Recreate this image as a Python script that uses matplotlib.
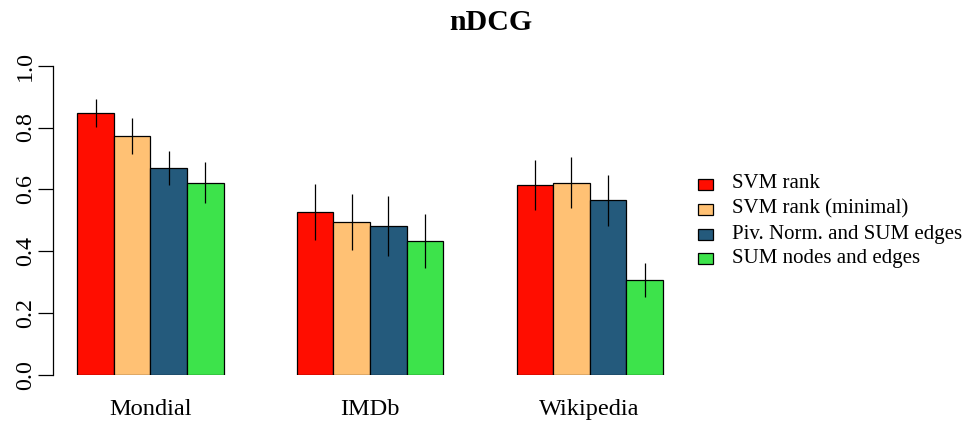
import matplotlib
matplotlib.use("Agg")
import matplotlib.pyplot as plt
import numpy as np
from matplotlib.patches import Rectangle

categories = ["Mondial", "IMDb", "Wikipedia"]
series_names = ["SVM rank", "SVM rank (minimal)", "Piv. Norm. and SUM edges", "SUM nodes and edges"]
colors = ["#FF0D00", "#FFC174", "#245A7C", "#3DE34B"]
values = {
    "SVM rank":                 [0.848, 0.526, 0.614],
    "SVM rank (minimal)":       [0.772, 0.495, 0.622],
    "Piv. Norm. and SUM edges": [0.668, 0.481, 0.565],
    "SUM nodes and edges":      [0.622, 0.432, 0.306],
}
errors = {
    "SVM rank":                 [0.045, 0.090, 0.081],
    "SVM rank (minimal)":       [0.058, 0.091, 0.083],
    "Piv. Norm. and SUM edges": [0.055, 0.097, 0.082],
    "SUM nodes and edges":      [0.066, 0.087, 0.055],
}
yticks = [0.0, 0.2, 0.4, 0.6, 0.8, 1.0]

W, H = 964, 421
fig = plt.figure(figsize=(W / 100, H / 100), dpi=100)
serif = "Liberation Serif"

ax_l, ax_r, ax_b, ax_t = 53, 683, 375, 65.7
ax = fig.add_axes([ax_l / W, 1 - ax_b / H, (ax_r - ax_l) / W, (ax_b - ax_t) / H])

nser = len(series_names)
gap = 2
stride = nser + gap
for g, cat in enumerate(categories):
    start = 1 + g * stride
    for s, name in enumerate(series_names):
        x = start + s + 0.5
        ax.bar(x, values[name][g], width=1.0, color=colors[s], edgecolor="black", linewidth=0.9, zorder=2)
        ax.errorbar(x, values[name][g], yerr=errors[name][g], fmt="none", ecolor="black",
                    elinewidth=0.9, capsize=0, zorder=3)

unit_px = 36.6
ax.set_xlim(1 - (77.3 - ax_l) / unit_px, 1 + (ax_r - 77.3) / unit_px)
ax.set_ylim(0, 1)
for sp in ["top", "right", "bottom"]:
    ax.spines[sp].set_visible(False)
ax.spines["left"].set_linewidth(0.9)
ax.spines["left"].set_bounds(0, 1)
ax.set_yticks(yticks)
ax.set_yticklabels([f"{v:.1f}" for v in yticks], rotation=90, va="center",
                   fontfamily=serif, fontsize=17.3)
ax.tick_params(axis="y", length=11, width=0.9, pad=1)
ax.set_xticks([1 + g * stride + nser / 2 for g in range(len(categories))])
ax.set_xticklabels(categories, fontfamily=serif, fontsize=17.6)
ax.tick_params(axis="x", length=0, pad=17)

fig.text(491 / W, 1 - 22 / H, "nDCG", ha="center", va="center", fontfamily=serif,
         fontsize=21.5, fontweight="bold")

# legend
row_y = [184, 209.3, 234.3, 258.8]
for s, name in enumerate(series_names):
    y = row_y[s]
    fig.patches.append(Rectangle((698 / W, 1 - (y + 5.5) / H), 15 / W, 11 / H,
                                 transform=fig.transFigure, facecolor=colors[s],
                                 edgecolor="black", linewidth=0.9))
    fig.text(732 / W, 1 - y / H, name, ha="left", va="center", fontfamily=serif, fontsize=15.0)

fig.savefig("out.png", dpi=100)
